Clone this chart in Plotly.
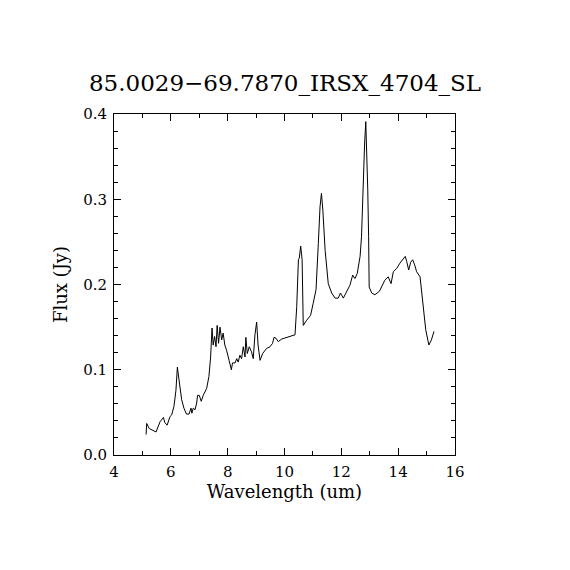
import plotly.graph_objects as go

# spectrum (wavelength in um, flux in Jy)
wavelength = [
    5.13, 5.15, 5.24, 5.36, 5.48, 5.62, 5.74, 5.79, 5.87, 5.97, 6.03, 6.11,
    6.18, 6.23, 6.27, 6.32, 6.38, 6.46, 6.55, 6.64, 6.71, 6.74, 6.79, 6.85,
    6.91, 6.94, 7.00, 7.07, 7.14, 7.26, 7.34, 7.40, 7.45, 7.49, 7.54, 7.59,
    7.63, 7.68, 7.73, 7.79, 7.84, 7.90, 7.96, 8.05, 8.13, 8.17, 8.26, 8.32,
    8.37, 8.43, 8.49, 8.55, 8.61, 8.64, 8.69, 8.76, 8.84, 8.90, 8.96, 9.02,
    9.07, 9.14, 9.23, 9.37, 9.49, 9.58, 9.63, 9.70, 9.78, 9.90, 10.07, 10.31,
    10.37, 10.43, 10.49, 10.52, 10.57, 10.62, 10.66, 10.78, 10.92, 11.01, 11.11,
    11.19, 11.25, 11.30, 11.35, 11.43, 11.54, 11.66, 11.78, 11.89, 11.97, 12.07,
    12.19, 12.30, 12.40, 12.48, 12.56, 12.66, 12.71, 12.77, 12.82, 12.86, 12.89,
    12.93, 12.96, 12.98, 13.07, 13.18, 13.34, 13.42, 13.53, 13.65, 13.75, 13.83,
    13.95, 14.06, 14.16, 14.25, 14.30, 14.37, 14.44, 14.51, 14.58, 14.65, 14.77,
    14.82, 14.88, 14.97, 15.08, 15.17, 15.26,
]
flux = [
    0.024, 0.037, 0.031, 0.029, 0.027, 0.039, 0.044, 0.038, 0.035, 0.045, 0.047, 0.057,
    0.076, 0.103, 0.092, 0.080, 0.065, 0.055, 0.048, 0.048, 0.055, 0.049, 0.055, 0.053,
    0.061, 0.070, 0.070, 0.063, 0.070, 0.078, 0.092, 0.115, 0.149, 0.129, 0.139, 0.127,
    0.152, 0.131, 0.150, 0.135, 0.143, 0.129, 0.123, 0.111, 0.100, 0.108, 0.108, 0.113,
    0.109, 0.117, 0.113, 0.127, 0.115, 0.138, 0.119, 0.127, 0.121, 0.113, 0.141, 0.156,
    0.129, 0.111, 0.119, 0.125, 0.127, 0.131, 0.138, 0.137, 0.133, 0.136, 0.138, 0.140,
    0.141, 0.174, 0.229, 0.231, 0.245, 0.229, 0.152, 0.158, 0.164, 0.178, 0.194,
    0.248, 0.291, 0.307, 0.287, 0.240, 0.201, 0.190, 0.184, 0.184, 0.190, 0.184,
    0.192, 0.199, 0.211, 0.207, 0.213, 0.233, 0.256, 0.326, 0.366, 0.391, 0.366,
    0.311, 0.256, 0.197, 0.190, 0.188, 0.192, 0.197, 0.205, 0.209, 0.201, 0.215,
    0.219, 0.225, 0.230, 0.233, 0.227, 0.217, 0.226, 0.229, 0.223, 0.215, 0.209,
    0.194, 0.170, 0.147, 0.129, 0.135, 0.145,
]

title_text = "85.0029\u221269.7870_IRSX_4704_SL"
serif = "DejaVu Serif"

fig = go.Figure()
fig.add_trace(go.Scatter(
    x=wavelength, y=flux, mode="lines",
    line=dict(color="black", width=1),
    showlegend=False, hoverinfo="skip",
))

axis_common = dict(
    showgrid=False, zeroline=False,
    showline=True, linecolor="black", linewidth=1, mirror="ticks",
    ticks="inside", ticklen=7, tickcolor="black", tickwidth=1,
    ticklabelstandoff=3,
    tickfont=dict(family=serif, size=15, color="black"),
)

# the page sits about 8 px in from the window edge, so the margins are shifted
fig.update_layout(
    width=570, height=570,
    paper_bgcolor="white", plot_bgcolor="white",
    margin=dict(l=106, r=123, t=106, b=123),
    title=dict(text=title_text, x=0.486, xanchor="center", y=0.868, yanchor="middle",
               font=dict(family=serif, size=23, color="black")),
    xaxis=dict(
        range=[4, 16], dtick=2, tick0=4,
        minor=dict(dtick=1, ticks="inside", ticklen=4, tickcolor="black"),
        title=dict(text="Wavelength (um)", font=dict(family=serif, size=18, color="black"),
                   standoff=4),
        **axis_common,
    ),
    yaxis=dict(
        range=[0, 0.4], dtick=0.1, tick0=0, tickformat=".1f",
        minor=dict(dtick=0.02, ticks="inside", ticklen=4, tickcolor="black"),
        title=dict(text="Flux (Jy)", font=dict(family=serif, size=18, color="black"),
                   standoff=10),
        **axis_common,
    ),
)

fig.write_html("out.html")
